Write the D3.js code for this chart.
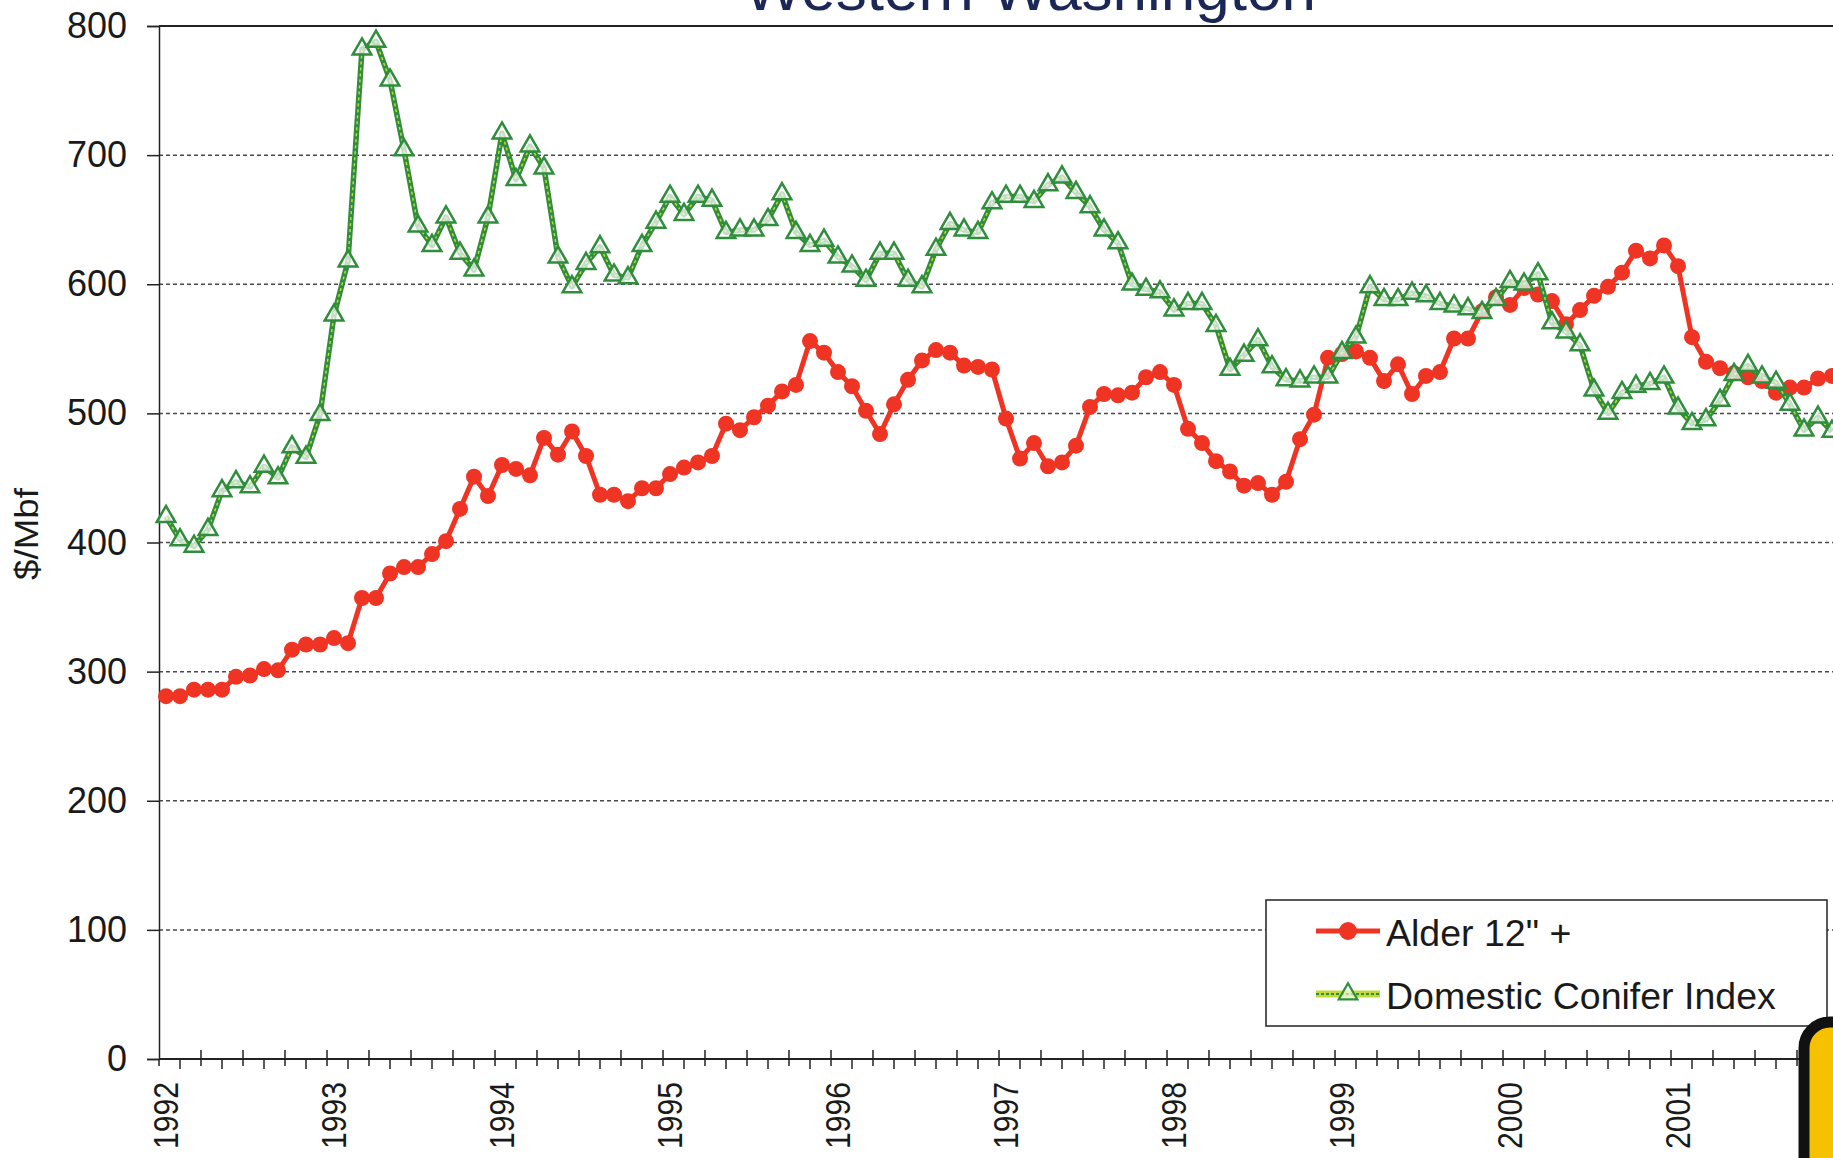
<!DOCTYPE html>
<html>
<head>
<meta charset="utf-8">
<script src="https://cdn.jsdelivr.net/npm/d3@7"></script>
<style>
  body { margin: 0; background: #fff; }
  svg { display: block; font-family: "Liberation Sans", Arial, sans-serif; }
</style>
</head>
<body>
<div id="graph"></div>
<script>
// monthly prices, Jan 1992 .. Dec 2001 ($/Mbf)
const years = ["1992", "1993", "1994", "1995", "1996", "1997", "1998", "1999", "2000", "2001"];

const alder = [
  281, 281, 286, 286, 286, 296, 297, 302, 301, 317, 321, 321,
  326, 322, 357, 357, 376, 381, 381, 391, 401, 426, 451, 436,
  460, 457, 452, 481, 468, 486, 467, 437, 437, 432, 442, 442,
  453, 458, 462, 467, 492, 487, 497, 506, 517, 522, 556, 547,
  532, 521, 502, 484, 507, 526, 541, 549, 547, 537, 536, 534,
  496, 465, 477, 459, 462, 475, 505, 515, 514, 516, 528, 532,
  522, 488, 477, 463, 455, 444, 446, 437, 447, 480, 499, 543,
  546, 548, 543, 525, 538, 515, 529, 532, 558, 558, 579, 590,
  584, 597, 592, 587, 569, 580, 591, 598, 609, 626, 620, 630,
  614, 559, 540, 535, 531, 528, 525, 516, 520, 520, 527, 529
];

const conifer = [
  420, 402, 397, 410, 440, 447, 443, 459, 450, 474, 466, 499,
  576, 618, 782, 788, 758, 704, 645, 630, 652, 624, 611, 652,
  717, 681, 707, 690, 621, 598, 616, 629, 607, 605, 630, 648,
  668, 654, 668, 665, 640, 642, 642, 650, 670, 640, 630, 634,
  621, 614, 603, 624, 624, 603, 598, 627, 647, 642, 640, 663,
  668, 668, 664, 677, 683, 671, 660, 642, 632, 600, 596, 594,
  580, 585, 585, 568, 534, 545, 557, 536, 526, 525, 528, 528,
  547, 559, 598, 588, 588, 593, 591, 585, 583, 581, 578, 588,
  602, 600, 608, 570, 563, 553, 518, 500, 516, 521, 523, 528,
  504, 492, 495, 510, 530, 537, 528, 524, 507, 487, 497, 486
];

const yTicks = [0, 100, 200, 300, 400, 500, 600, 700, 800];
const seriesNames = ["Alder 12\" +", "Domestic Conifer Index"];

const width = 1833;
const height = 1158;
const plotLeft = 159, plotTop = 26, plotBottom = 1059;
const monthW = 14;
const nMonths = alder.length;

const red = "#ef3424";
const green = "#2f8d3c";
const lime = "#c4d936";

const svg = d3.select("#graph")
              .append("svg")
              .attr("width", width)
              .attr("height", height);

const xScale = d3.scaleLinear()
                 .domain([0, nMonths])
                 .range([plotLeft, plotLeft + monthW * nMonths]);

const yScale = d3.scaleLinear()
                 .domain([0, 800])
                 .range([plotBottom, plotTop]);

// title, mostly cut off by the top of the picture (as in the scan)
svg.append("text")
   .attr("x", 1030)
   .attr("y", 10)
   .attr("text-anchor", "middle")
   .style("font-size", "62px")
   .style("fill", "#1b2857")
   .text("Western Washington");

// dashed gridlines
svg.append("g")
   .selectAll("line")
   .data(yTicks.filter(d => d > 0 && d < 800))
   .enter()
   .append("line")
   .attr("x1", plotLeft)
   .attr("x2", width)
   .attr("y1", d => yScale(d))
   .attr("y2", d => yScale(d))
   .attr("stroke", "#4a4a4a")
   .attr("stroke-width", 1.5)
   .attr("stroke-dasharray", "4,3");

// plot frame top line
svg.append("line")
   .attr("x1", plotLeft).attr("x2", width)
   .attr("y1", plotTop).attr("y2", plotTop)
   .attr("stroke", "#222")
   .attr("stroke-width", 2);

// y axis
const yAxis = d3.axisLeft(yScale)
                .tickValues(yTicks)
                .tickSize(12)
                .tickPadding(20);

svg.append("g")
   .attr("transform", `translate(${plotLeft}, 0)`)
   .style("font-size", "36px")
   .call(yAxis)
   .call(g => g.select(".domain").attr("stroke", "#222").attr("stroke-width", 1.5))
   .call(g => g.selectAll(".tick line").attr("stroke", "#222").attr("stroke-width", 1.5))
   .call(g => g.selectAll(".tick text").attr("fill", "#1a1a1a").attr("font-family", "Liberation Sans, Arial, sans-serif"));

svg.append("text")
   .attr("transform", `translate(38, 534) rotate(-90) scale(1.08,1)`)
   .attr("text-anchor", "middle")
   .style("font-size", "34px")
   .style("fill", "#1a1a1a")
   .text("$/Mbf");

// x axis: line, major ticks crossing every 3 months, minor ticks outside in between
const xAxisG = svg.append("g");

xAxisG.append("line")
      .attr("x1", plotLeft).attr("x2", width)
      .attr("y1", plotBottom).attr("y2", plotBottom)
      .attr("stroke", "#222")
      .attr("stroke-width", 2);

const majors = d3.range(0, nMonths + 1, 3);
const minors = d3.range(1.5, nMonths, 3);

xAxisG.selectAll(".major")
      .data(majors)
      .enter()
      .append("line")
      .attr("class", "major")
      .attr("x1", d => xScale(d)).attr("x2", d => xScale(d))
      .attr("y1", d => d === 0 ? plotBottom : plotBottom - 9)
      .attr("y2", plotBottom + 7)
      .attr("stroke", "#222")
      .attr("stroke-width", 1.5);

xAxisG.selectAll(".minor")
      .data(minors)
      .enter()
      .append("line")
      .attr("class", "minor")
      .attr("x1", d => xScale(d)).attr("x2", d => xScale(d))
      .attr("y1", plotBottom)
      .attr("y2", plotBottom + 10)
      .attr("stroke", "#222")
      .attr("stroke-width", 1.5);

xAxisG.selectAll(".year")
      .data(years)
      .enter()
      .append("text")
      .attr("class", "year")
      .attr("transform", (d, i) => `translate(${xScale(i * 12 + 0.5) + 12}, 1082) rotate(-90) scale(0.86,1)`)
      .attr("text-anchor", "end")
      .style("font-size", "35px")
      .style("fill", "#1a1a1a")
      .text(d => d);

// series
const line = d3.line()
               .x((d, i) => xScale(i + 0.5))
               .y(d => yScale(d));

svg.append("path")
   .datum(alder)
   .attr("d", line)
   .attr("fill", "none")
   .attr("stroke", red)
   .attr("stroke-width", 5)
   .attr("stroke-linejoin", "round");

svg.append("g")
   .selectAll("circle")
   .data(alder)
   .enter()
   .append("circle")
   .attr("cx", (d, i) => xScale(i + 0.5))
   .attr("cy", d => yScale(d))
   .attr("r", 8)
   .attr("fill", red);

svg.append("path")
   .datum(conifer)
   .attr("d", line)
   .attr("fill", "none")
   .attr("stroke", green)
   .attr("stroke-width", 5.5)
   .attr("stroke-linejoin", "round");

svg.append("path")
   .datum(conifer)
   .attr("d", line)
   .attr("fill", "none")
   .attr("stroke", lime)
   .attr("stroke-width", 1.5)
   .attr("stroke-dasharray", "3,3")
   .attr("stroke-linejoin", "round");

const tri = d3.symbol().type(d3.symbolTriangle).size(150);

svg.append("g")
   .selectAll("path")
   .data(conifer)
   .enter()
   .append("path")
   .attr("d", tri)
   .attr("transform", (d, i) => `translate(${xScale(i + 0.5)}, ${yScale(d)})`)
   .attr("fill", "#ffffff")
   .attr("fill-opacity", 0.7)
   .attr("stroke", green)
   .attr("stroke-width", 2.5);

// legend
const legend = svg.append("g");

legend.append("rect")
      .attr("x", 1266).attr("y", 900)
      .attr("width", 561).attr("height", 126)
      .attr("fill", "#fff")
      .attr("stroke", "#222")
      .attr("stroke-width", 1.5);

legend.append("line")
      .attr("x1", 1316).attr("x2", 1380)
      .attr("y1", 931).attr("y2", 931)
      .attr("stroke", red).attr("stroke-width", 5);

legend.append("circle")
      .attr("cx", 1348).attr("cy", 931).attr("r", 9)
      .attr("fill", red);

legend.append("line")
      .attr("x1", 1316).attr("x2", 1380)
      .attr("y1", 994).attr("y2", 994)
      .attr("stroke", lime).attr("stroke-width", 7);

legend.append("line")
      .attr("x1", 1316).attr("x2", 1380)
      .attr("y1", 994).attr("y2", 994)
      .attr("stroke", green).attr("stroke-width", 2)
      .attr("stroke-dasharray", "3,2");

legend.append("path")
      .attr("d", tri)
      .attr("transform", "translate(1348, 994)")
      .attr("fill", "#fff")
      .attr("fill-opacity", 0.6)
      .attr("stroke", green)
      .attr("stroke-width", 2.2);

legend.selectAll("text")
      .data(seriesNames)
      .enter()
      .append("text")
      .attr("x", 1386)
      .attr("y", (d, i) => 946 + i * 63)
      .style("font-size", "37.5px")
      .style("fill", "#1a1a1a")
      .text(d => d);

// yellow sign poking in at the bottom right corner
svg.append("rect")
   .attr("x", 1804).attr("y", 1022)
   .attr("width", 120).attr("height", 220)
   .attr("rx", 26)
   .attr("fill", "#f6c200")
   .attr("stroke", "#111")
   .attr("stroke-width", 11);
</script>
</body>
</html>
